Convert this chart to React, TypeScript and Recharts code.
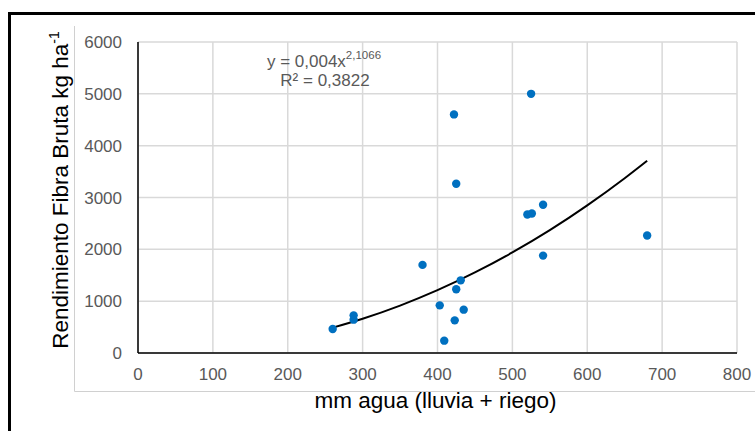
import React from 'react';
import { ComposedChart, Scatter, Line, XAxis, YAxis, CartesianGrid } from 'recharts';

const waterMm = [260, 288, 288, 380, 403, 409, 422, 423, 425, 425, 431, 435, 520, 526, 525, 541, 541, 680];
const yieldKg = [463, 726, 643, 1700, 919, 238, 4603, 630, 3264, 1229, 1402, 836, 2671, 2690, 5000, 2859, 1879, 2266];

const trendX = [260, 300, 350, 400, 450, 500, 550, 600, 650, 680];
const trendY = [489, 661, 915, 1212, 1554, 1940, 2370, 2848, 3372, 3709];

const xTicks = [0, 100, 200, 300, 400, 500, 600, 700, 800];
const yTicks = [0, 1000, 2000, 3000, 4000, 5000, 6000];

const points = waterMm.map((x, i) => ({ x, y: yieldKg[i] }));
const trend = trendX.map((x, i) => ({ x, t: trendY[i] }));

const FONT = '"Liberation Sans", Arial, sans-serif';

export default function App() {
  return (
    <div style={{ position: 'fixed', left: 0, top: 0, width: 755, height: 431, overflow: 'hidden', background: '#fff', fontFamily: FONT }}>
      <div style={{ position: 'absolute', left: 8, top: 12, width: 900, height: 700, border: '3px solid #000', boxSizing: 'border-box' }} />
      <svg width={755} height={431} style={{ position: 'absolute', left: 0, top: 0 }}>
        <line x1={74.5} y1={26} x2={74.5} y2={391.5} stroke="#d0d0d0" strokeWidth={1} />
        <line x1={74.5} y1={391.5} x2={755} y2={391.5} stroke="#d0d0d0" strokeWidth={1} />
      </svg>
      <div style={{ position: 'absolute', left: 0, top: 0 }}>
        <ComposedChart width={755} height={431} margin={{ top: 42, right: 18, bottom: 48, left: 0 }}>
          <CartesianGrid stroke="#d9d9d9" strokeWidth={1.5} />
          <XAxis
            type="number"
            dataKey="x"
            domain={[0, 800]}
            ticks={xTicks}
            height={30}
            axisLine={{ stroke: '#000', strokeWidth: 1.5 }}
            tickLine={false}
            tickSize={0}
            tickMargin={15}
            tick={{ fill: '#595959', fontSize: 17, fontFamily: FONT }}
            allowDataOverflow
          />
          <YAxis
            type="number"
            domain={[0, 6000]}
            ticks={yTicks}
            width={138}
            axisLine={{ stroke: '#000', strokeWidth: 1.5 }}
            tickLine={false}
            tickSize={0}
            tickMargin={16}
            tick={{ fill: '#595959', fontSize: 17, fontFamily: FONT }}
            allowDataOverflow
          />
          <Scatter data={points} dataKey="y" fill="#0070C0" isAnimationActive={false} shape={(p: any) => <circle cx={p.cx} cy={p.cy} r={4.2} fill="#0070C0" />} />
          <Line data={trend} dataKey="t" type="monotone" stroke="#000" strokeWidth={2} dot={false} activeDot={false} isAnimationActive={false} />
        </ComposedChart>
      </div>
      <svg width={755} height={431} style={{ position: 'absolute', left: 0, top: 0, pointerEvents: 'none' }}>
        <text x={324} y={67} textAnchor="middle" fontFamily={FONT} fontSize={17} fill="#595959">
          y = 0,004x<tspan fontSize={11.5} dy={-8}>2,1066</tspan>
        </text>
        <text x={325} y={86} textAnchor="middle" fontFamily={FONT} fontSize={17} fill="#595959">R² = 0,3822</text>
        <text transform="translate(68,190) rotate(-90)" textAnchor="middle" fontFamily={FONT} fontSize={22.5} fill="#000">
          Rendimiento Fibra Bruta kg ha<tspan fontSize={14} dy={-9}>-1</tspan>
        </text>
        <text x={435.5} y={408} textAnchor="middle" fontFamily={FONT} fontSize={22.5} fill="#000">mm agua (lluvia + riego)</text>
      </svg>
    </div>
  );
}
